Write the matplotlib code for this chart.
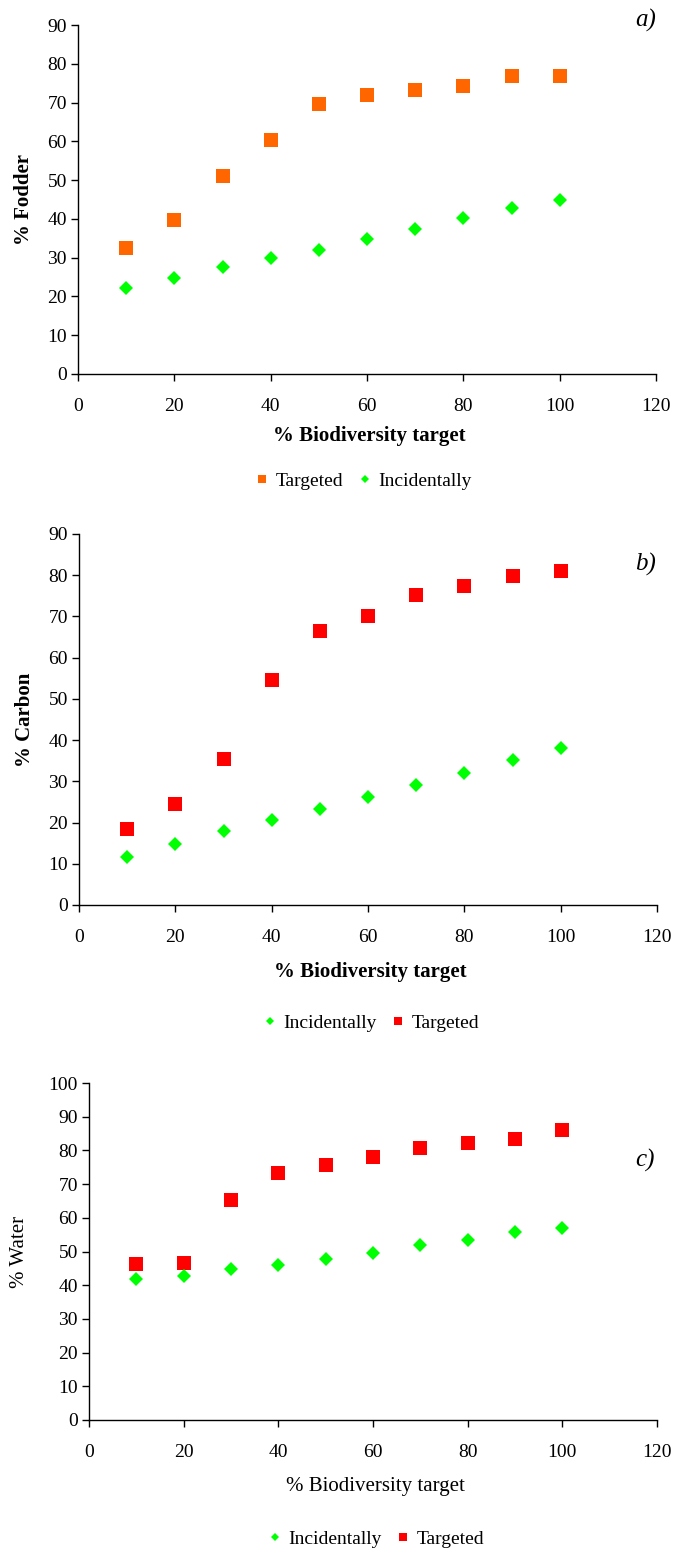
import matplotlib.pyplot as plt
import numpy as np

# data
target = [10, 20, 30, 40, 50, 60, 70, 80, 90, 100]

fodderTargeted = [32.6, 39.7, 51.1, 60.3, 69.5, 72.0, 73.2, 74.3, 76.8, 76.8]
fodderIncidental = [22.3, 24.8, 27.7, 29.8, 32.0, 34.9, 37.5, 40.3, 42.8, 45.0]

carbonTargeted = [18.4, 24.5, 35.3, 54.6, 66.5, 70.2, 75.1, 77.4, 79.7, 81.0]
carbonIncidental = [11.6, 14.9, 18.0, 20.7, 23.4, 26.3, 29.2, 32.1, 35.1, 38.0]

waterTargeted = [46.2, 46.7, 65.2, 73.2, 75.8, 78.1, 80.8, 82.1, 83.5, 86.0]
waterIncidental = [41.7, 42.8, 44.8, 46.0, 47.8, 49.6, 51.8, 53.5, 55.8, 57.1]

W, H = 675, 1561
plt.rcParams['font.family'] = 'Liberation Serif'

fig = plt.figure(figsize=(W / 100, H / 100), dpi=100)


def px(x, y):
    # pixel coords (from top-left) -> figure fraction
    return x / W, 1 - y / H


def makeAxes(left, right, top, bottom):
    return fig.add_axes([left / W, 1 - bottom / H, (right - left) / W, (bottom - top) / H])


def styleAxes(ax, ymax):
    ax.set_xlim(0, 120)
    ax.set_ylim(0, ymax)
    ax.set_xticks(np.arange(0, 121, 20))
    ax.set_yticks(np.arange(0, ymax + 1, 10))
    ax.spines['top'].set_visible(False)
    ax.spines['right'].set_visible(False)
    ax.tick_params(direction='out', length=5, width=1, labelsize=14, color='black')
    ax.tick_params(axis='x', pad=12)
    ax.tick_params(axis='y', pad=3)
    ax.spines['left'].set_linewidth(1)
    ax.spines['bottom'].set_linewidth(1)


panels = [
    # (axes box, ymax, targeted, incidental, targeted colour, ylabel, bold, tag, tag pos,
    #  ylabel x, xlabel y, legend y, legend x, order)
    ((78, 656, 25, 374), 90, fodderTargeted, fodderIncidental, '#FF6600', '% Fodder', True,
     'a)', (646, 20), 24, 436, 481, 362, 'TI'),
    ((79, 657, 534, 905), 90, carbonTargeted, carbonIncidental, '#FF0000', '% Carbon', True,
     'b)', (646, 564), 25, 972, 1023, 370, 'IT'),
    ((89, 657, 1083, 1420), 100, waterTargeted, waterIncidental, '#FF0000', '% Water', False,
     'c)', (645, 1160), 19, 1487, 1539, 375, 'IT'),
]

for box, ymax, tgt, inc, tcol, ylab, bold, tag, tagPos, ylx, xly, legy, legx, order in panels:
    ax = makeAxes(*box)
    styleAxes(ax, ymax)
    hT, = ax.plot(target, tgt, linestyle='none', marker='s', markersize=10,
                  color=tcol, markeredgewidth=0, clip_on=False, label='Targeted')
    hI, = ax.plot(target, inc, linestyle='none', marker='D', markersize=7,
                  color='#00FF00', markeredgewidth=0, clip_on=False, label='Incidentally')

    weight = 'bold' if bold else 'normal'
    centerX = (box[0] + box[1]) / 2
    fig.text(*px(centerX + 2, xly), '% Biodiversity target', ha='center', va='center',
             fontsize=15, fontweight=weight)
    fig.text(*px(ylx, (box[2] + box[3]) / 2), ylab, ha='center', va='center',
             rotation=90, fontsize=15, fontweight=weight)
    fig.text(*px(*tagPos), tag, ha='center', va='center', fontsize=18, style='italic')

    handles = [hT, hI] if order == 'TI' else [hI, hT]
    fig.legend(handles=handles, loc='center', bbox_to_anchor=px(legx, legy), ncol=2,
               frameon=False, fontsize=14, markerscale=0.6, handletextpad=0.2,
               columnspacing=0.6, handlelength=1.0)

fig.savefig('out.png', dpi=100)
